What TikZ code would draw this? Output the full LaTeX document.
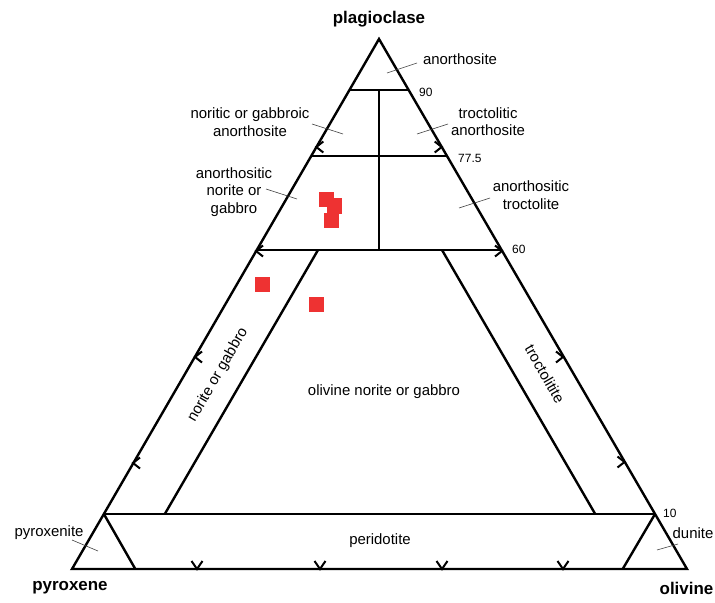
\documentclass[tikz,border=0pt]{standalone}
\usepackage{fontspec}
\setmainfont{Liberation Sans}
\usetikzlibrary{calc}
\definecolor{ptred}{RGB}{238,50,50}
\begin{document}
\begin{tikzpicture}[x=1bp,y=-1bp,
  edge/.style={line width=2.4bp, line join=miter},
  chev/.style={line width=2bp},
  lab/.style={font=\fontsize{15}{17.5}\selectfont, align=center, inner sep=0},
  num/.style={font=\fontsize{12}{13}\selectfont, inner sep=0, anchor=west},
  corner/.style={font=\bfseries\fontsize{17}{19}\selectfont, inner sep=0},
  lead/.style={line width=0.6bp, black!75},
  pt/.style={fill=ptred, draw=none, minimum size=15bp, inner sep=0}]
\useasboundingbox (0,0) rectangle (715,603);
% vertices
\coordinate (P) at (379,39);
\coordinate (X) at (72,569);
\coordinate (O) at (687,569);
% horizontal divisions
\coordinate (a90L) at ($(P)!0.0962!(X)$);
\coordinate (a90R) at ($(P)!0.0962!(O)$);
\coordinate (a77L) at ($(P)!0.2208!(X)$);
\coordinate (a77R) at ($(P)!0.2208!(O)$);
\coordinate (a60L) at ($(P)!0.3981!(X)$);
\coordinate (a60R) at ($(P)!0.3981!(O)$);
\coordinate (a10L) at ($(P)!0.8962!(X)$);
\coordinate (a10R) at ($(P)!0.8962!(O)$);
\coordinate (m90) at (379,90);
\coordinate (m60) at (379,250);
% inner band lines
\coordinate (inL1) at (318,250);
\coordinate (inL2) at (164.8,514);
\coordinate (inR1) at (442,250);
\coordinate (inR2) at (595.2,514);
\coordinate (pxB) at (135.3,569);
\coordinate (duB) at (622.7,569);
% main lines
\draw[edge] (P) -- (X) -- (O) -- cycle;
\draw[edge] (a90L) -- (a90R);
\draw[edge] (a77L) -- (a77R);
\draw[edge] (a60L) -- (a60R);
\draw[edge] (a10L) -- (a10R);
\draw[edge] (m90) -- (m60);
\draw[edge] (inL1) -- (inL2);
\draw[edge] (inR1) -- (inR2);
\draw[edge] (a10L) -- (pxB);
\draw[edge] (a10R) -- (duB);
% chevron tips
\coordinate (c1) at (316.3,147);
\coordinate (c2) at (256,251);
\coordinate (c3) at (195,357);
\coordinate (c4) at (133,463);
\coordinate (d1) at (441.7,147);
\coordinate (d2) at (502,251);
\coordinate (d3) at (563,357);
\coordinate (d4) at (624.5,462);
\coordinate (e1) at (197,569);
\coordinate (e2) at (320,569);
\coordinate (e3) at (442,569);
\coordinate (e4) at (563,569);
% chevrons on left edge (pointing left)
\foreach \n in {c1,c2,c3,c4}{
  \draw[chev] ($(\n)+(7,-5.5)$) -- (\n) -- ($(\n)+(7,5.5)$);
}
% chevrons on right edge (pointing right)
\foreach \n in {d1,d2,d3,d4}{
  \draw[chev] ($(\n)+(-7,-5.5)$) -- (\n) -- ($(\n)+(-7,5.5)$);
}
% chevrons on bottom edge (pointing down)
\foreach \n in {e1,e2,e3,e4}{
  \draw[chev] ($(\n)+(-5.5,-8)$) -- (\n) -- ($(\n)+(5.5,-8)$);
}
% data points
\node[pt] (s1) at (326.5,199.5) {};
\node[pt] (s2) at (334.5,206) {};
\node[pt] (s3) at (331.5,220.5) {};
\node[pt] (s4) at (262.5,284.5) {};
\node[pt] (s5) at (316.5,304.5) {};
% corner labels
\node[corner] (tPl) at (379,19) {plagioclase};
\node[corner] (tPx) at (70,588) {pyroxene};
\node[corner] (tOl) at (686.5,588) {olivine};
% numbers
\node[num] (n90) at (419,92) {90};
\node[num] (n77) at (458,158) {77.5};
\node[num] (n60) at (512,249) {60};
\node[num] (n10) at (663,513) {10};
% field labels
\node[lab] (lAn) at (460,59) {anorthosite};
\node[lab] (lNa) at (250,122) {noritic or gabbroic\\anorthosite};
\node[lab] (lAng) at (234,192) {anorthositic\\norite or\\gabbro};
\node[lab] (lTa) at (488,121.5) {troctolitic\\anorthosite};
\node[lab] (lAt) at (531,195) {anorthositic\\troctolite};
\node[lab] (lOn) at (384,392) {olivine norite or gabbro};
\node[lab, rotate=60] (lNg) at (218,375) {norite or gabbro};
\node[lab, rotate=-60] (lTr) at (545,374) {troctolitite};
\node[lab] (lPe) at (380,541) {peridotite};
\node[lab] (lPx) at (49,533) {pyroxenite};
\node[lab] (lDu) at (693,533) {dunite};
% leader lines
\coordinate (q1a) at (417,63);  \coordinate (q1b) at (387,73);
\coordinate (q2a) at (312,124); \coordinate (q2b) at (343,134);
\coordinate (q3a) at (266,189); \coordinate (q3b) at (297,199);
\coordinate (q4a) at (448,124); \coordinate (q4b) at (417,134);
\coordinate (q5a) at (490,198); \coordinate (q5b) at (459,208);
\coordinate (q6a) at (72,540);  \coordinate (q6b) at (98,551);
\coordinate (q7a) at (678,544); \coordinate (q7b) at (657,550);
\foreach \k in {1,...,7}{\draw[lead] (q\k a) -- (q\k b);}
\end{tikzpicture}
\end{document}
